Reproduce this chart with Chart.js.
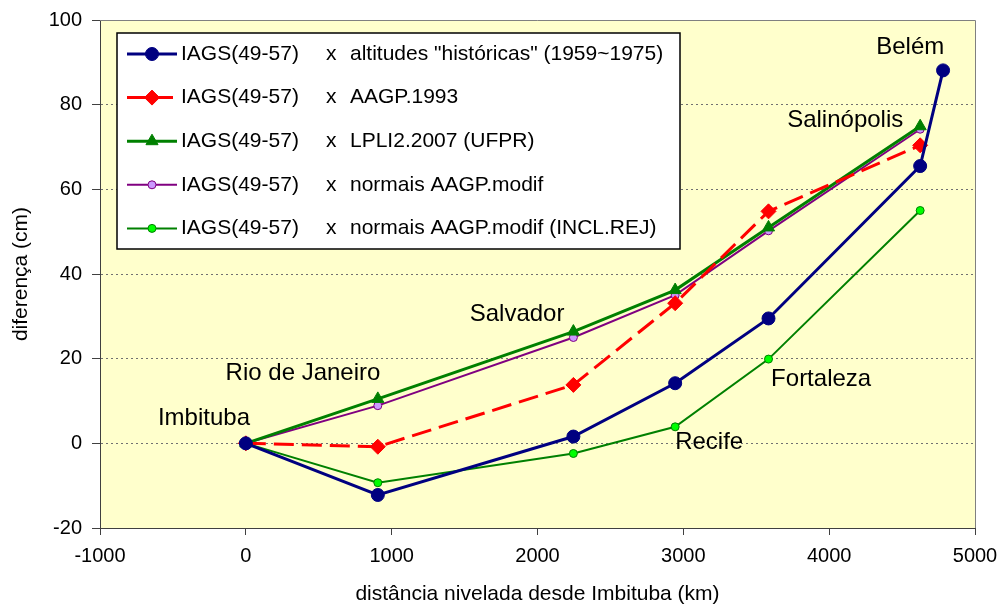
<!DOCTYPE html>
<html>
<head>
<meta charset="utf-8">
<script src="https://cdn.jsdelivr.net/npm/chart.js@4.4.1/dist/chart.umd.min.js"></script>
<style>
  html, body { margin: 0; padding: 0; background: #fff; }
</style>
</head>
<body>
<canvas id="chart" width="1001" height="608"></canvas>
<script>
// distance along the levelling line (km) and differences (cm)
const distHist = [0, 905, 2246, 2944, 3584, 4624, 4781];
const diffHist = [0, -12.2, 1.6, 14.2, 29.5, 65.5, 88.1];

const distOther = [0, 905, 2246, 2944, 3584, 4624];
const diffAagp93 = [0, -0.8, 13.8, 33.1, 54.8, 70.4];
const diffLpli = [0, 10.5, 26.4, 36.2, 51.0, 74.9];
const diffNormais = [0, 8.9, 25.0, 35.0, 50.2, 74.2];
const diffNormaisRej = [0, -9.3, -2.4, 3.9, 19.9, 55.0];

const seriesLeft = ["IAGS(49-57)", "IAGS(49-57)", "IAGS(49-57)", "IAGS(49-57)", "IAGS(49-57)"];
const seriesRight = [
  'altitudes "históricas" (1959~1975)',
  "AAGP.1993",
  "LPLI2.2007 (UFPR)",
  "normais AAGP.modif",
  "normais AAGP.modif (INCL.REJ)"
];

// city labels, placed in data units
const cityNames = ["Imbituba", "Rio de Janeiro", "Salvador", "Recife", "Fortaleza", "Salinópolis", "Belém"];
const cityX = [-287, 392, 1860, 3177, 3945, 4110, 4556];
const cityY = [6.0, 16.6, 30.5, 0.3, 15.2, 76.4, 93.6];

const xTicks = [-1000, 0, 1000, 2000, 3000, 4000, 5000];
const yTicks = [-20, 0, 20, 40, 60, 80, 100];

const FONT = "'Liberation Sans', Arial, sans-serif";

function pts(xs, ys) {
  return xs.map((x, i) => ({ x: x, y: ys[i] }));
}

const datasets = [
  {
    label: seriesRight[0],
    data: pts(distHist, diffHist),
    borderColor: "#000080", backgroundColor: "#000080",
    borderWidth: 3, pointStyle: "circle", pointRadius: 6.5, pointBorderWidth: 1
  },
  {
    label: seriesRight[1],
    data: pts(distOther, diffAagp93),
    borderColor: "#ff0000", backgroundColor: "#ff0000",
    borderWidth: 3, borderDash: [20, 8], pointStyle: "rectRot", pointRadius: 7.5, pointBorderWidth: 1
  },
  {
    label: seriesRight[2],
    data: pts(distOther, diffLpli),
    borderColor: "#008000", backgroundColor: "#008000",
    borderWidth: 3, pointStyle: "triangle", pointRadius: 7, pointBorderWidth: 1
  },
  {
    label: seriesRight[3],
    data: pts(distOther, diffNormais),
    borderColor: "#800080", backgroundColor: "#cc99ff",
    borderWidth: 2, pointStyle: "circle", pointRadius: 4, pointBorderWidth: 1
  },
  {
    label: seriesRight[4],
    data: pts(distOther, diffNormaisRej),
    borderColor: "#008000", backgroundColor: "#00ff00",
    borderWidth: 2, pointStyle: "circle", pointRadius: 4, pointBorderWidth: 1
  }
];

// yellow plot area + thin frame on top/right
const plotBg = {
  id: "plotBg",
  beforeDraw(chart) {
    const { ctx, chartArea: a } = chart;
    ctx.save();
    ctx.fillStyle = "#ffffcc";
    ctx.fillRect(a.left, a.top, a.right - a.left, a.bottom - a.top);
    ctx.restore();
  },
  afterDraw(chart) {
    const { ctx, chartArea: a } = chart;
    ctx.save();
    ctx.strokeStyle = "#808080";
    ctx.lineWidth = 1;
    ctx.beginPath();
    ctx.moveTo(a.left, a.top + 0.5);
    ctx.lineTo(a.right + 0.5, a.top + 0.5);
    ctx.lineTo(a.right + 0.5, a.bottom);
    ctx.stroke();
    ctx.restore();
  }
};

// city names and axis titles
const labelsPlugin = {
  id: "labels",
  afterDatasetsDraw(chart) {
    const { ctx, scales } = chart;
    ctx.save();
    ctx.fillStyle = "#000";
    ctx.font = "24px " + FONT;
    ctx.textAlign = "center";
    ctx.textBaseline = "middle";
    cityNames.forEach((name, i) => {
      ctx.fillText(name, scales.x.getPixelForValue(cityX[i]), scales.y.getPixelForValue(cityY[i]));
    });

    const a = chart.chartArea;
    ctx.font = "21px " + FONT;
    ctx.fillText("distância nivelada desde Imbituba (km)", (a.left + a.right) / 2, 594);
    ctx.translate(21, (a.top + a.bottom) / 2);
    ctx.rotate(-Math.PI / 2);
    ctx.fillText("diferença (cm)", 0, 0);
    ctx.restore();
  }
};

// legend box drawn like the original one
const legendBox = {
  id: "legendBox",
  afterDraw(chart) {
    const { ctx } = chart;
    ctx.save();
    ctx.fillStyle = "#fff";
    ctx.fillRect(117, 33, 563, 216);
    ctx.strokeStyle = "#000";
    ctx.lineWidth = 1.5;
    ctx.strokeRect(117, 33, 563, 216);

    ctx.font = "21px " + FONT;
    ctx.textBaseline = "middle";
    ctx.textAlign = "left";
    chart.data.datasets.forEach((ds, i) => {
      const y = 54 + i * 43.6;
      ctx.strokeStyle = ds.borderColor;
      ctx.lineWidth = ds.borderWidth;
      ctx.setLineDash(ds.borderDash ? [19, 8] : []);
      ctx.beginPath();
      ctx.moveTo(127, y);
      ctx.lineTo(177, y);
      ctx.stroke();
      ctx.setLineDash([]);
      ctx.fillStyle = ds.backgroundColor;
      ctx.strokeStyle = ds.borderColor;
      ctx.lineWidth = ds.pointBorderWidth;
      Chart.helpers.drawPoint(ctx, {
        pointStyle: ds.pointStyle, radius: ds.pointRadius, rotation: 0, borderWidth: ds.pointBorderWidth
      }, 152, y);
      ctx.fillStyle = "#000";
      ctx.fillText(seriesLeft[i], 181, y);
      ctx.fillText("x", 326, y);
      ctx.fillText(seriesRight[i], 350, y);
    });
    ctx.restore();
  }
};

new Chart(document.getElementById("chart").getContext("2d"), {
  type: "line",
  data: { datasets: datasets },
  options: {
    responsive: false,
    animation: false,
    devicePixelRatio: 1,
    layout: { padding: { top: 20, right: 26, left: 0, bottom: 0 } },
    elements: { line: { tension: 0, fill: false } },
    plugins: { legend: { display: false }, tooltip: { enabled: false } },
    scales: {
      x: {
        type: "linear",
        min: xTicks[0], max: xTicks[xTicks.length - 1],
        afterFit(s) { s.height = 80; s.paddingLeft = 0; s.paddingRight = 0; },
        afterBuildTicks(s) { s.ticks = xTicks.map(v => ({ value: v })); },
        ticks: { color: "#000", font: { size: 20, family: FONT }, padding: 9, maxRotation: 0, callback: v => String(v) },
        grid: { drawOnChartArea: false, drawTicks: true, tickLength: 7, tickColor: "#404040", color: "#404040" },
        border: { color: "#404040", width: 1 }
      },
      y: {
        type: "linear",
        min: yTicks[0], max: yTicks[yTicks.length - 1],
        afterFit(s) { s.width = 100; s.paddingTop = 0; s.paddingBottom = 0; },
        afterBuildTicks(s) { s.ticks = yTicks.map(v => ({ value: v })); },
        ticks: { color: "#000", font: { size: 20, family: FONT }, padding: 10, callback: v => String(v) },
        grid: {
          color: c => (c.tick && c.tick.value > -20 && c.tick.value < 100) ? "#707070" : "rgba(0,0,0,0)",
          lineWidth: 1,
          borderDash: [2, 3],
          tickLength: 8, tickColor: "#404040", tickBorderDash: [], tickWidth: 1
        },
        border: { color: "#404040", width: 1, dash: [2, 3] }
      }
    }
  },
  plugins: [plotBg, labelsPlugin, legendBox]
});
</script>
</body>
</html>
